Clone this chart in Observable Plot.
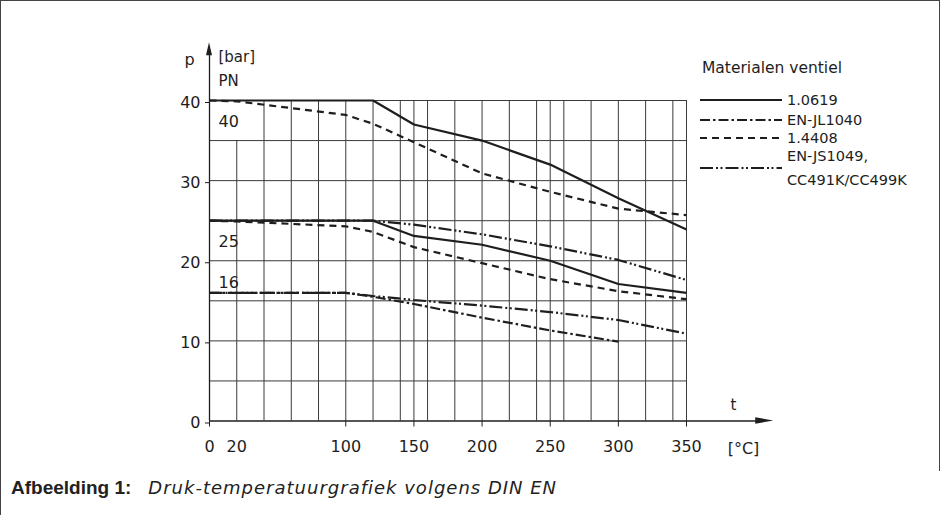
<!DOCTYPE html>
<html><head><meta charset="utf-8">
<script src="https://cdn.jsdelivr.net/npm/d3@7"></script>
<script src="https://cdn.jsdelivr.net/npm/@observablehq/plot@0.6"></script>
<style>
body{margin:0;background:#fff;font-family:"DejaVu Sans",sans-serif;color:#222;}
#page{position:relative;width:940px;height:515px;overflow:hidden;background:#fff;}
#box{position:absolute;left:0;top:0;width:938px;height:470px;border:1px solid #444;border-bottom:none;}
#leftline{position:absolute;left:0;top:0;width:1px;height:515px;background:#444}
#chart{position:absolute;left:0;top:0}
#legend{position:absolute;left:0;top:0}
#caption{position:absolute;left:11px;top:476px;color:#222;white-space:nowrap;line-height:24px}
#caption b{font-family:"Liberation Sans",sans-serif;font-weight:700;font-size:19px;margin-right:17px}
#caption i{font-family:"DejaVu Sans",sans-serif;font-style:italic;font-size:18px;letter-spacing:1px}
</style></head>
<body>
<div id="page">
  <div id="box"></div>
  <div id="leftline"></div>
  <div id="chart"></div>
  <svg id="legend" width="940" height="200"></svg>
  <div id="caption"><b>Afbeelding 1:</b><i>Druk-temperatuurgrafiek volgens DIN EN</i></div>
</div>
<script>
// ---- data (temperature t in °C, pressure p in bar) ----
const legendTitle = "Materialen ventiel";
const materials = ["1.0619", "EN-JL1040", "1.4408", "EN-JS1049,|CC491K/CC499K"];

const t_10619_PN40 = [0, 120, 150, 200, 250, 300, 350];
const p_10619_PN40 = [40, 40, 37, 35, 32, 27.8, 23.9];
const t_10619_PN25 = [0, 120, 150, 200, 250, 300, 350];
const p_10619_PN25 = [25, 25, 23.1, 22, 20, 17.1, 16];

const t_14408_PN40 = [0, 20, 100, 120, 150, 200, 250, 300, 350];
const p_14408_PN40 = [40, 39.9, 38.2, 37.1, 34.8, 30.9, 28.6, 26.5, 25.7];
const t_14408_PN25 = [0, 20, 100, 120, 150, 200, 250, 300, 350];
const p_14408_PN25 = [25, 24.9, 24.3, 23.6, 21.7, 19.7, 17.7, 16.2, 15.2];

const t_JS1049_PN25 = [0, 120, 150, 200, 250, 300, 350];
const p_JS1049_PN25 = [25, 25, 24.5, 23.3, 21.8, 20.1, 17.6];
const t_JS1049_PN16 = [0, 100, 120, 150, 200, 250, 300, 350];
const p_JS1049_PN16 = [16, 16, 15.6, 15.1, 14.4, 13.6, 12.6, 10.9];

const t_JL1040_PN16 = [0, 100, 120, 150, 200, 250, 300];
const p_JL1040_PN16 = [16, 16, 15.5, 14.6, 12.9, 11.3, 9.9];

const pnLevels = [40, 25, 16];
const yTicks = [0, 10, 20, 30, 40];
const xTickMarks = [0, 100, 150, 200, 250, 300, 350];
const xTickLabels = [0, 20, 100, 150, 200, 250, 300, 350];
const gridX = [40, 60, 80, 100, 120, 140, 150, 160, 180, 200, 220, 240, 250, 260, 280, 300, 320, 340, 350];
const shortGridX = [20];
const shortGridTop = 35;
const gridY = [5, 10, 15, 20, 25, 30, 35, 40];
const xMax = 350, yMax = 40;
const xArrowTip = 414, yArrowTip = 47.2;

// ---- styles ----
const dashSolid = null;
const dashJL = "10,3,2.5,3";
const dashDashed = "7,5";
const dashJS = "13,3,2,2.5,2,3";
const font = "'DejaVu Sans', sans-serif";
const ink = "#1e1e1e";

const pts = (t, p) => t.map((d, i) => ({t: d, p: p[i]}));
const lineOpts = (dash) => ({x: "t", y: "p", stroke: ink, strokeWidth: 2.2, strokeDasharray: dash, strokeLinejoin: "miter", strokeLinecap: "butt"});
const txt = {lineAnchor: "middle", fontSize: 15};

const plot = Plot.plot({
  width: 940, height: 470,
  marginLeft: 209, marginRight: 254, marginTop: 100, marginBottom: 49.5,
  x: {domain: [0, xMax], label: null},
  y: {domain: [0, yMax], label: null},
  style: {fontFamily: font, fontSize: "16px", color: ink, background: "transparent", overflow: "visible"},
  marks: [
    Plot.ruleX(gridX, {y1: 0, y2: yMax, stroke: "#3a3a3a", strokeWidth: 1}),
    Plot.ruleX(shortGridX, {y1: 0, y2: shortGridTop, stroke: "#3a3a3a", strokeWidth: 1}),
    Plot.ruleY(gridY, {x1: 0, x2: xMax, stroke: "#3a3a3a", strokeWidth: 1}),
    // axes lines
    Plot.ruleX([0], {y1: 0, y2: yArrowTip - 1.5, stroke: ink, strokeWidth: 1.3}),
    Plot.ruleY([0], {x1: 0, x2: xArrowTip - 10, stroke: ink, strokeWidth: 1.3}),
    Plot.axisX({ticks: xTickMarks, tickSize: 6, tickFormat: () => "", stroke: ink, label: null}),
    Plot.axisX({ticks: xTickLabels, tickSize: 0, tickPadding: 20, fontSize: 16, label: null}),
    Plot.axisY({ticks: yTicks, tickSize: 4, tickPadding: 5, dy: 2, fontSize: 16, stroke: ink, label: null}),
    // curves
    Plot.line(pts(t_14408_PN40, p_14408_PN40), lineOpts(dashDashed)),
    Plot.line(pts(t_14408_PN25, p_14408_PN25), lineOpts(dashDashed)),
    Plot.line(pts(t_JS1049_PN25, p_JS1049_PN25), lineOpts(dashJS)),
    Plot.line(pts(t_JS1049_PN16, p_JS1049_PN16), lineOpts(dashJS)),
    Plot.line(pts(t_JL1040_PN16, p_JL1040_PN16), lineOpts(dashJL)),
    Plot.line(pts(t_10619_PN40, p_10619_PN40), lineOpts(dashSolid)),
    Plot.line(pts(t_10619_PN25, p_10619_PN25), lineOpts(dashSolid)),
    // PN labels
    Plot.text(pnLevels.filter(d => d !== 16), {x: 0, y: d => d, text: d => String(d), dx: 9, dy: 21, textAnchor: "start", ...txt, fontSize: 16}),
    Plot.text(pnLevels.filter(d => d === 16), {x: 0, y: d => d, text: d => String(d), dx: 9, dy: -10, textAnchor: "start", ...txt, fontSize: 16}),
    // axis titles
    Plot.text(["p"], {frameAnchor: "top-left", dx: -20, dy: -41, textAnchor: "middle", ...txt, fontSize: 16}),
    Plot.text(["[bar]"], {frameAnchor: "top-left", dx: 9, dy: -43, textAnchor: "start", ...txt}),
    Plot.text(["PN"], {frameAnchor: "top-left", dx: 9, dy: -19, textAnchor: "start", ...txt}),
    Plot.text(["t"], {frameAnchor: "bottom-right", dx: 47, dy: -15.5, textAnchor: "middle", ...txt}),
    Plot.text(["[°C]"], {frameAnchor: "bottom-right", dx: 57, dy: 27.5, textAnchor: "middle", ...txt, fontSize: 16})
  ]
});
document.getElementById("chart").appendChild(plot);

// arrowheads drawn through the plot's own scales
const sx = plot.scale("x"), sy = plot.scale("y");
const svg = d3.select(plot);
const x0 = sx.apply(0), y0 = sy.apply(0);
const xt = sx.apply(xArrowTip), yt = sy.apply(yArrowTip);
svg.append("path").attr("d", `M${xt},${y0}L${xt - 18},${y0 - 3.2}L${xt - 18},${y0 + 3.2}Z`).attr("fill", ink);
svg.append("path").attr("d", `M${x0},${yt}L${x0 - 3},${yt + 13}L${x0 + 3},${yt + 13}Z`).attr("fill", ink);

// legend
const lg = d3.select("#legend");
lg.append("text").attr("x", 702).attr("y", 68).attr("dy", "0.35em").attr("font-family", font).attr("font-size", 15.5).attr("fill", ink).text(legendTitle);
const rowY = [100, 120, 138, 168];
const dashes = [dashSolid, dashJL, dashDashed, dashJS];
materials.forEach((m, i) => {
  lg.append("line").attr("x1", 700).attr("x2", 782).attr("y1", rowY[i]).attr("y2", rowY[i])
    .attr("stroke", ink).attr("stroke-width", 2.2).attr("stroke-dasharray", dashes[i]);
  const parts = m.split("|");
  const t = lg.append("text").attr("font-family", font).attr("font-size", 14.5).attr("fill", ink);
  if (parts.length === 1) {
    t.attr("x", 787).attr("y", rowY[i]).attr("dy", "0.35em").text(parts[0]);
  } else {
    t.append("tspan").attr("x", 787).attr("y", rowY[i] - 12).attr("dy", "0.35em").text(parts[0]);
    t.append("tspan").attr("x", 787).attr("y", rowY[i] + 12).attr("dy", "0.35em").text(parts[1]);
  }
});
</script>
</body></html>
